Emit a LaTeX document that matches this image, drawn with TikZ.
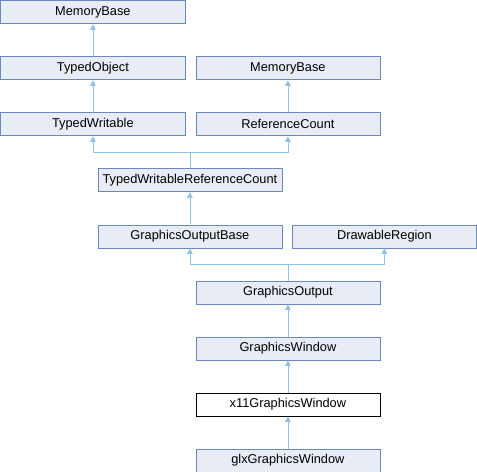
\documentclass[tikz,border=0pt]{standalone}
\usepackage{fontspec}
\setmainfont{Liberation Sans}
\usetikzlibrary{arrows.meta}
\definecolor{nodefill}{HTML}{E8ECF5}
\definecolor{nodeline}{HTML}{6C87C2}
\definecolor{edgecol}{HTML}{8FC3E6}
\begin{document}
\begin{tikzpicture}[x=1bp,y=-1bp,
  cls/.style={draw=nodeline,fill=nodefill,line width=0.8bp,minimum width=184bp,minimum height=23bp,inner sep=0pt,anchor=north west,font=\fontsize{12.8bp}{14bp}\selectfont},
  cur/.style={cls,draw=black,fill=white},
  inh/.style={draw=edgecol,line width=0.8bp,-{Triangle[length=5.5bp,width=5.5bp,fill=edgecol]}}]
\useasboundingbox (0,0) rectangle (477,472);
\node[cls] (mb1) at (0.5,0.5) {MemoryBase};
\node[cls] (to) at (0.5,56.5) {TypedObject};
\node[cls] (mb2) at (195.5,56.5) {MemoryBase};
\node[cls] (tw) at (0.5,112.5) {TypedWritable};
\node[cls] (rc) at (195.5,112.5) {ReferenceCount};
\node[cls] (twrc) at (97.5,168.5) {TypedWritableReferenceCount};
\node[cls] (gob) at (97.5,224.5) {GraphicsOutputBase};
\node[cls] (dr) at (292,224.5) {DrawableRegion};
\node[cls] (go) at (195.5,280.5) {GraphicsOutput};
\node[cls] (gw) at (195.5,336.5) {GraphicsWindow};
\node[cur] (x11) at (195.5,392.5) {x11GraphicsWindow};
\node[cls] (glx) at (195.5,448.5) {glxGraphicsWindow};
\coordinate (j1) at (twrc.north |- 0,152);
\coordinate (j2) at (go.north |- 0,264);
\draw[inh] (to.north) -- (mb1.south);
\draw[inh] (tw.north) -- (to.south);
\draw[inh] (rc.north) -- (mb2.south);
\draw[inh] (twrc.north) -- (j1) -| (tw.south);
\draw[inh] (j1) -| (rc.south);
\draw[inh] (gob.north) -- (twrc.south);
\draw[inh] (go.north) -- (j2) -| (gob.south);
\draw[inh] (j2) -| (dr.south);
\draw[inh] (gw.north) -- (go.south);
\draw[inh] (x11.north) -- (gw.south);
\draw[inh] (glx.north) -- (x11.south);
\end{tikzpicture}
\end{document}
